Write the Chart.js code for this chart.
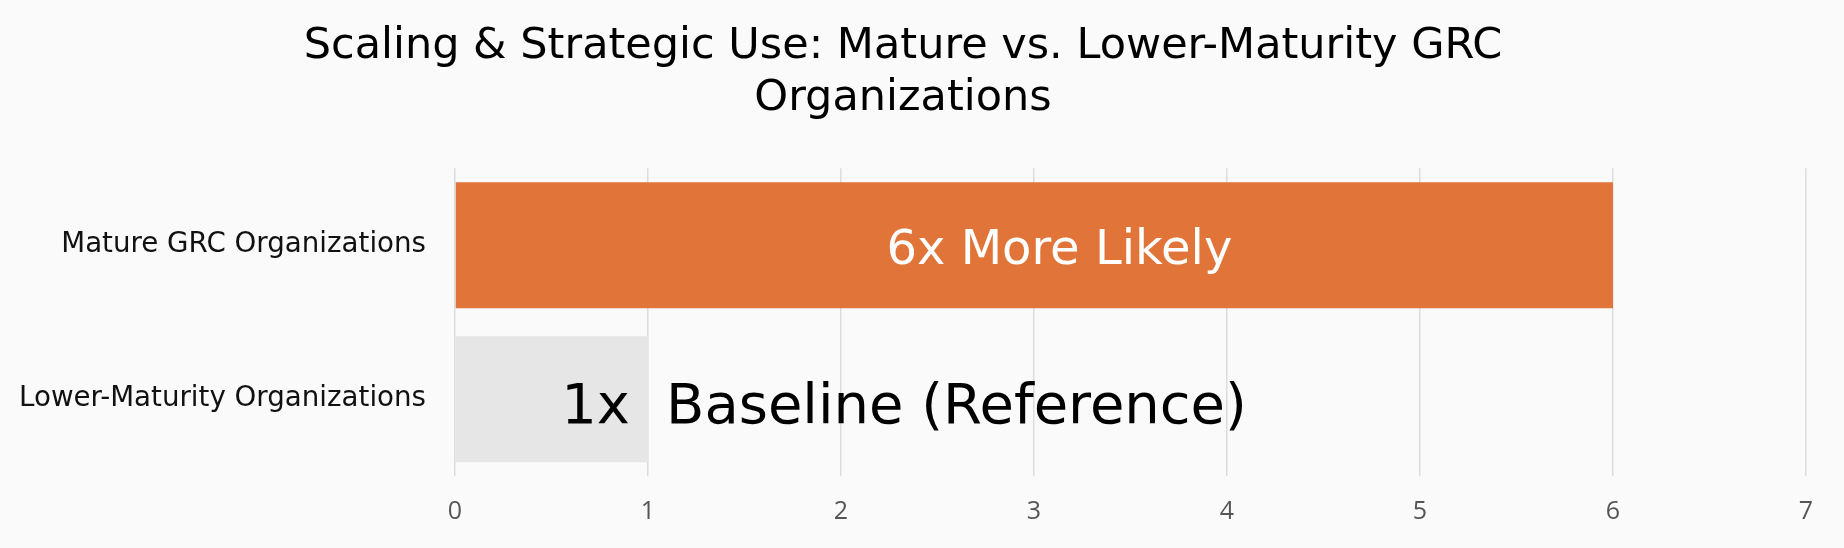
<!DOCTYPE html>
<html>
<head>
<meta charset="utf-8">
<script src="https://cdn.jsdelivr.net/npm/chart.js@4.4.1/dist/chart.umd.min.js"></script>
<style>
  html, body { margin: 0; padding: 0; background: #fafafa; }
  #wrap { width: 1844px; height: 548px; position: relative; }
</style>
</head>
<body>
<div id="wrap"><canvas id="c"></canvas></div>
<script>
const titleLines = ["Scaling & Strategic Use: Mature vs. Lower-Maturity GRC", "Organizations"];
const categories = ["Mature GRC Organizations", "Lower-Maturity Organizations"];
const values = [6, 1];
const valueLabels = ["6x More Likely", "1x"];
const sideNotes = ["", "Baseline (Reference)"];
const barColors = ["#E17539", "#E6E6E6"];
const xMin = 0, xMax = 7, xStep = 1;

const FONT = "'DejaVu Sans', sans-serif";

const labelPlugin = {
  id: 'barLabels',
  afterDatasetsDraw(chart) {
    const ctx = chart.ctx;
    const meta = chart.getDatasetMeta(0);
    meta.data.forEach((bar, i) => {
      const {x, y, base} = bar.getProps(['x', 'y', 'base'], true);
      ctx.save();
      ctx.textBaseline = 'alphabetic';
      if (i === 0) {
        const size = 48;
        ctx.font = size + "px " + FONT;
        ctx.fillStyle = '#ffffff';
        ctx.textAlign = 'center';
        ctx.fillText(valueLabels[i], (x + base) / 2 + 25, y + 0.729 * size / 2 + 1);
      } else {
        const size = 56;
        ctx.font = size + "px " + FONT;
        ctx.fillStyle = '#000000';
        ctx.textAlign = 'right';
        ctx.fillText(valueLabels[i], x - 18, y + 0.729 * size / 2 + 3);
        if (sideNotes[i]) {
          ctx.textAlign = 'left';
          ctx.fillText(sideNotes[i], x + 18, y + 0.729 * size / 2 + 3);
        }
      }
      ctx.restore();
    });
  }
};

new Chart(document.getElementById('c'), {
  type: 'bar',
  data: {
    labels: categories,
    datasets: [{
      data: values,
      backgroundColor: barColors,
      borderWidth: 0,
      barPercentage: 0.9,
      categoryPercentage: 0.91
    }]
  },
  options: {
    indexAxis: 'y',
    responsive: true,
    maintainAspectRatio: false,
    animation: false,
    layout: { padding: { top: 0, left: 0, right: 38, bottom: 0 } },
    plugins: {
      legend: { display: false },
      tooltip: { enabled: false },
      title: {
        display: true,
        text: titleLines,
        color: '#000000',
        font: { family: FONT, size: 43, weight: 'normal', lineHeight: 1.2 },
        padding: { top: 21, bottom: 44 }
      }
    },
    scales: {
      x: {
        min: xMin,
        max: xMax,
        ticks: {
          stepSize: xStep,
          color: '#555555',
          padding: 21.5,
          font: { family: "'Open Sans', sans-serif", size: 25, lineHeight: 1.15 }
        },
        grid: { color: '#dcdcdc', lineWidth: 1.5, drawTicks: false },
        border: { display: false }
      },
      y: {
        ticks: {
          color: '#111111',
          padding: 29,
          font: { family: FONT, size: 27.7, lineHeight: 1.2 }
        },
        grid: { display: false, drawTicks: false },
        border: { display: false },
        afterFit(scale) { scale.width = 455; }
      }
    }
  },
  plugins: [labelPlugin]
});
</script>
</body>
</html>
